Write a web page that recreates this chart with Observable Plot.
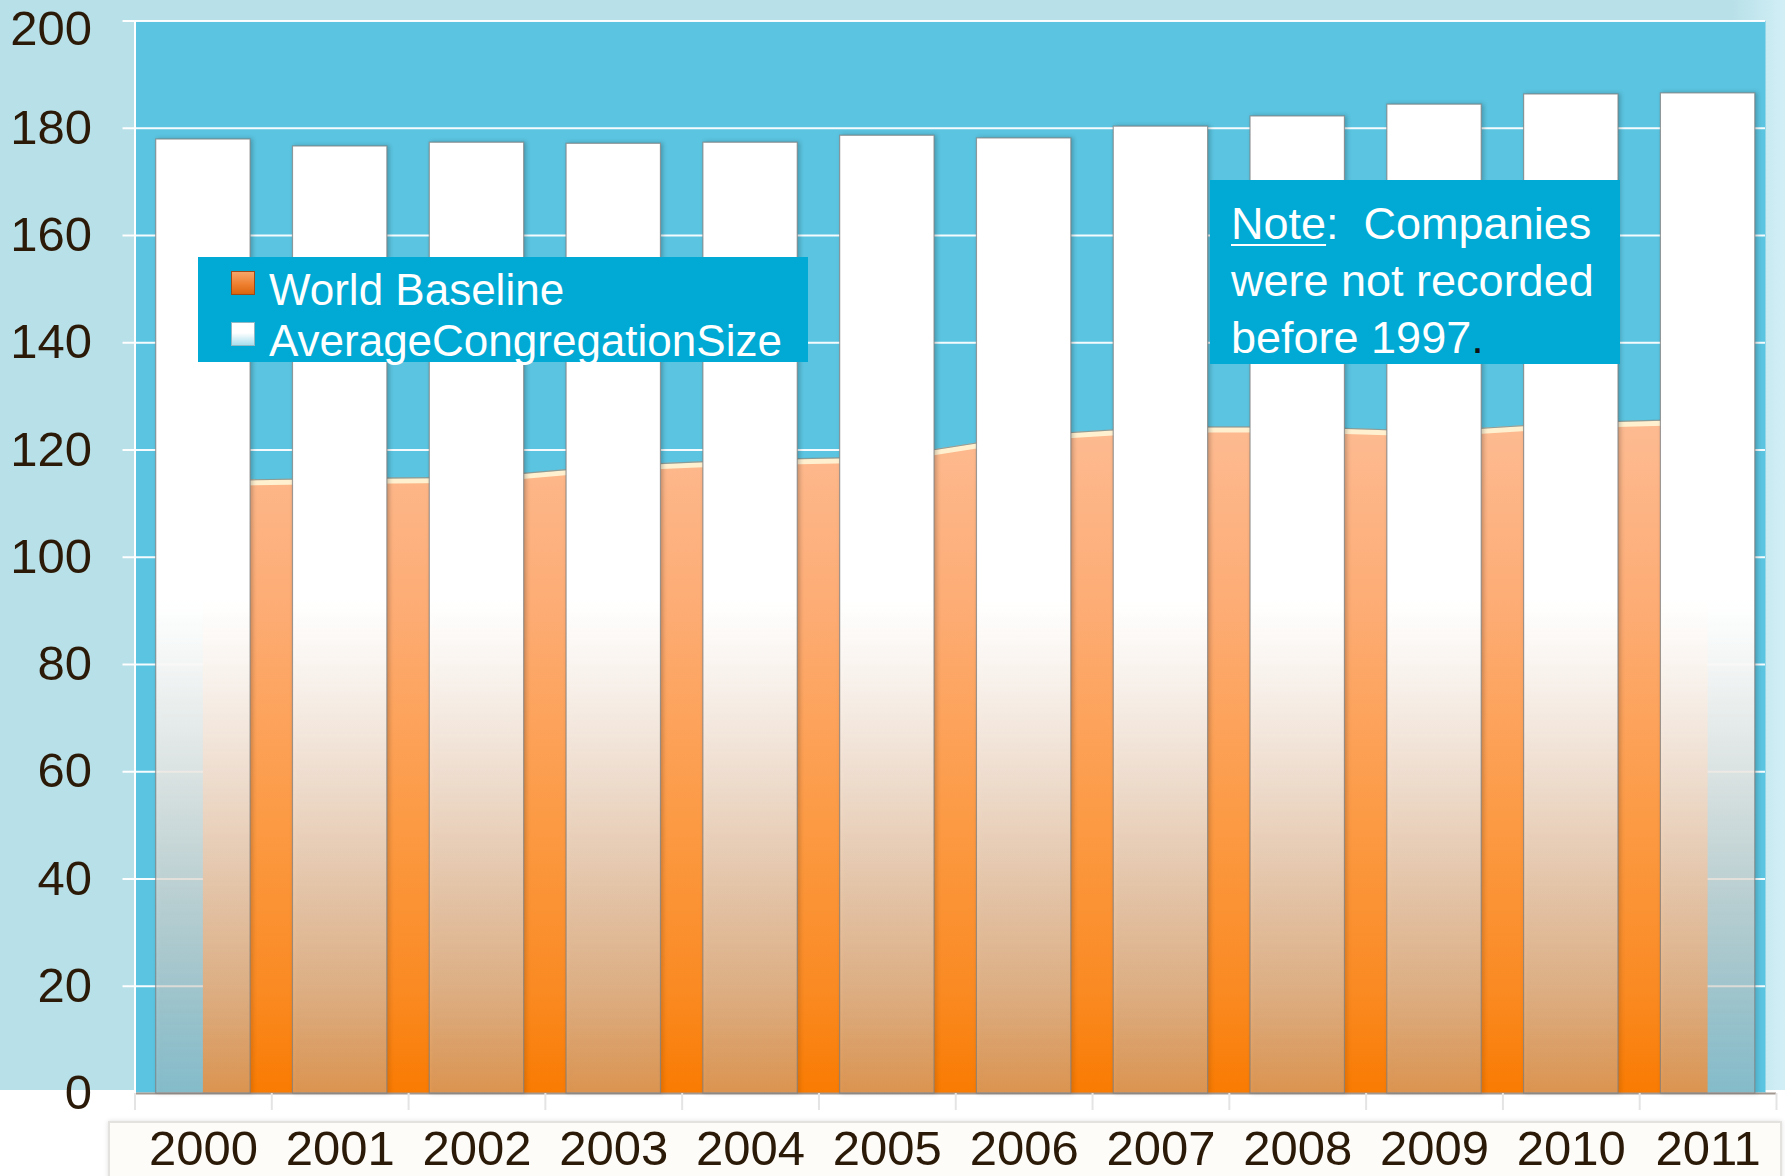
<!DOCTYPE html>
<html>
<head>
<meta charset="utf-8">
<script src="https://cdn.jsdelivr.net/npm/d3@7"></script>
<script src="https://cdn.jsdelivr.net/npm/@observablehq/plot@0.6"></script>
<style>
  html, body { margin: 0; padding: 0; background: #ffffff; }
  #wrap { position: relative; width: 1785px; height: 1176px; overflow: hidden; font-family: "Liberation Sans", Arial, sans-serif; }
  #bg { position: absolute; left: 0; top: 0; width: 1785px; height: 1090px;
        background: linear-gradient(90deg, #b8e0e8 0%, #b8e0e8 97%, #d2eff6 100%); }
  #labelbox { position: absolute; left: 108px; top: 1121px; width: 1670px; height: 80px;
        background: #fdfcf8; border: 2px solid #e3e2de; box-shadow: 0 0 5px rgba(0,0,0,0.12); }
  #chart { position: absolute; left: 0; top: 0; }
  .legend { position: absolute; left: 198px; top: 257px; width: 610px; height: 105px; background: #00aad4; color: #fff; font-size: 44px; }
  .legend .row { position: absolute; left: 71px; line-height: 44px; white-space: nowrap; }
  .legend .sw { position: absolute; left: 33px; width: 22px; height: 22px; }
  .sw1 { top: 14px; background: linear-gradient(180deg, #f6a66a 0%, #ef8030 55%, #d9650e 100%); border: 1px solid #9b4a1a; }
  .sw2 { top: 65px; background: linear-gradient(180deg, #ffffff 0%, #ffffff 45%, #a9dfee 100%); border: 1px solid #8fb8c4; }
  .note { position: absolute; left: 1210px; top: 180px; width: 410px; height: 184px; background: #00aad4; color: #fff;
          font-size: 45px; line-height: 57px; padding: 15px 0 0 21px; box-sizing: border-box; white-space: nowrap; }
  .note u { text-decoration-thickness: 2px; text-underline-offset: 5px; }
  .note .dot { color: #111; }
</style>
</head>
<body>
<div id="wrap">
  <div id="bg"></div>
  <div id="labelbox"></div>
  <div id="chart"></div>
  <div class="legend">
    <div class="sw sw1"></div><div class="row" style="top:11px">World Baseline</div>
    <div class="sw sw2"></div><div class="row" style="top:62px">AverageCongregationSize</div>
  </div>
  <div class="note"><u>Note</u>:&nbsp; Companies<br>were not recorded<br>before 1997<span class="dot">.</span></div>
</div>
<script>
const years = [2000, 2001, 2002, 2003, 2004, 2005, 2006, 2007, 2008, 2009, 2010, 2011];
const worldBaseline = [114.3, 114.7, 114.9, 117.1, 118.2, 118.7, 122.7, 124.3, 124.3, 123.5, 125.1, 125.8];
const avgCongregationSize = [177.9, 176.6, 177.3, 177.1, 177.3, 178.6, 178.1, 180.3, 182.2, 184.4, 186.3, 186.5];
const yTicks = [0, 20, 40, 60, 80, 100, 120, 140, 160, 180, 200];

const data = years.map((year, i) => ({year, base: worldBaseline[i], avg: avgCongregationSize[i]}));
const half = 0.345;
const bounds = years.map(y => y - 0.5).concat([years[years.length - 1] + 0.5]);
const yMax = yTicks[yTicks.length - 1];
const yLower = yTicks.filter(t => t < yMax);

const plot = Plot.plot({
  width: 1785,
  height: 1176,
  marginLeft: 134.5,
  marginRight: 9,
  marginTop: 20.5,
  marginBottom: 83,
  style: {background: "transparent", fontFamily: "Liberation Sans, Arial, sans-serif", overflow: "visible"},
  x: {type: "linear", domain: [years[0] - 0.5, years[years.length - 1] + 0.5], label: null},
  y: {domain: [0, yMax], label: null},
  marks: [
    Plot.frame({fill: "#5bc4e0", stroke: "none", insetRight: 11}),
    Plot.gridY(yTicks, {stroke: "#ffffff", strokeOpacity: 0.95, strokeWidth: 2, insetRight: 11}),
    Plot.areaY(data, {x: "year", y: "base", fill: "url(#areaGrad)"}),
    Plot.lineY(data, {x: "year", y: "base", stroke: "#fff0cf", strokeWidth: 5, dy: 3}),
    Plot.lineY(data, {x: "year", y: "base", stroke: "#3f8aa0", strokeWidth: 1.2, strokeOpacity: 0.6}),
    Plot.ruleY([0], {stroke: "#a39890", strokeWidth: 2}),
    Plot.rect(data, {x1: d => d.year - half, x2: d => d.year + half, y1: 0, y2: "avg",
      fill: "url(#barGrad)", stroke: "#7f7f7f", strokeWidth: 1.2, strokeOpacity: 0.75}),
    Plot.ruleX([years[0] - 0.5], {stroke: "#ffffff", strokeWidth: 2, insetBottom: -17}),
    Plot.axisY(yTicks, {tickSize: 12, tickFormat: () => "", stroke: "#ffffff", strokeWidth: 2}),
    Plot.axisY(yLower, {tickSize: 0, tickPadding: 43, fontSize: 49, color: "#2b1a08"}),
    Plot.text([yMax], {y: d => d, text: d => `${d}`, frameAnchor: "left", textAnchor: "end", dx: -43, dy: 8,
      fontSize: 49, fill: "#2b1a08"}),
    Plot.axisX(bounds, {tickSize: 17, tickFormat: () => "", stroke: "#e4e4e4", strokeWidth: 2}),
    Plot.axisX(years, {tickSize: 0, tickPadding: 37, fontSize: 49, color: "#2b1a08", tickFormat: d => `${d}`})
  ]
});

const yS = plot.scale("y");
const svg = d3.select(plot);
const defs = svg.insert("defs", ":first-child");

const bar = defs.append("linearGradient").attr("id", "barGrad").attr("gradientUnits", "userSpaceOnUse")
  .attr("x1", 0).attr("x2", 0).attr("y1", yS.apply(200)).attr("y2", yS.apply(0));
const barStops = [
  [200, "#ffffff", 1], [92, "#ffffff", 1], [80, "#fcfaf8", 0.95], [60, "#f4eee9", 0.85],
  [40, "#eae2db", 0.72], [20, "#ded7d1", 0.57], [0, "#cecac6", 0.4]
];
for (const [v, c, o] of barStops) {
  bar.append("stop").attr("offset", (200 - v) / 200).attr("stop-color", c).attr("stop-opacity", o);
}
const area = defs.append("linearGradient").attr("id", "areaGrad").attr("gradientUnits", "userSpaceOnUse")
  .attr("x1", 0).attr("x2", 0).attr("y1", yS.apply(126)).attr("y2", yS.apply(0));
const areaStops = [[0, "#fdbb92"], [0.3, "#fdab72"], [0.6, "#fc9a44"], [0.85, "#fa8a22"], [1, "#f97b02"]];
for (const [o, c] of areaStops) area.append("stop").attr("offset", o).attr("stop-color", c);

svg.selectAll('g[fill="url(#barGrad)"]').style("filter", "drop-shadow(2px 0px 2px rgba(0,0,0,0.22))");

document.getElementById("chart").appendChild(plot);
</script>
</body>
</html>
